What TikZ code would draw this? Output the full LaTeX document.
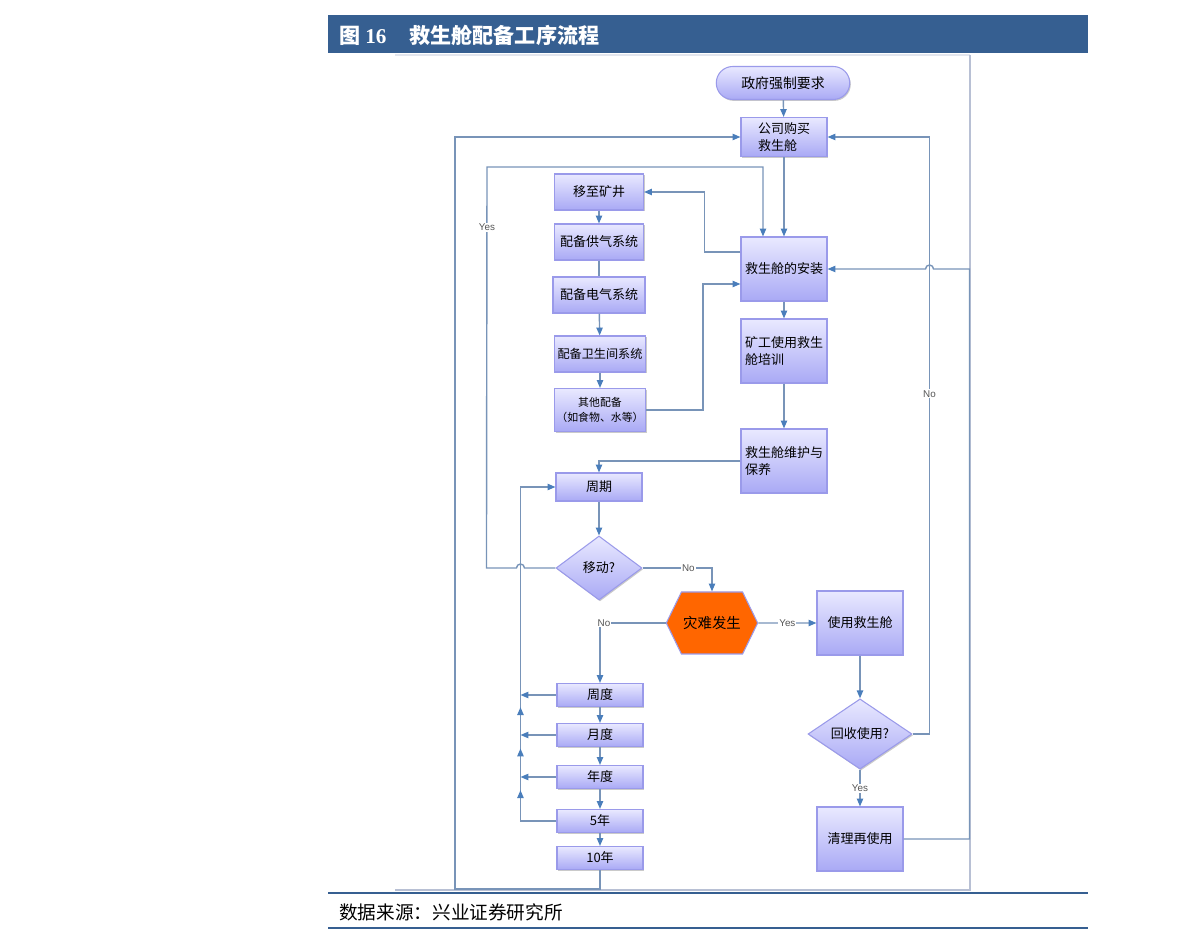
\documentclass[tikz,border=0pt]{standalone}
\usepackage{fontspec}
\setmainfont{Liberation Sans}
\newfontfamily\cjk{Noto Sans CJK SC}
\newfontfamily\numserif{Liberation Serif}
\usetikzlibrary{shapes.geometric,shapes.misc,shapes.symbols,shadows,arrows.meta,decorations.markings}

\providecommand{\PX}{0.02cm}
\providecommand{\FSbox}{\cjk\fontsize{7.4}{9.6}\selectfont}
\providecommand{\FSsmall}{\cjk\fontsize{6.9}{9}\selectfont}
\providecommand{\FStiny}{\cjk\fontsize{6.2}{8.4}\selectfont}
\providecommand{\FSstart}{\cjk\fontsize{7.9}{9.6}\selectfont}
\providecommand{\FSalarm}{\cjk\fontsize{8.2}{9.6}\selectfont}
\providecommand{\FSlbl}{\fontsize{5.6}{6.5}\selectfont}
\providecommand{\FShead}{\cjk\bfseries\fontsize{12}{14}\selectfont}
\providecommand{\FSfoot}{\cjk\fontsize{10.6}{12}\selectfont}

\definecolor{boxtop}{HTML}{E9E9FF}
\definecolor{boxbot}{HTML}{A9A9F5}
\definecolor{boxline}{HTML}{9A9AEA}
\definecolor{linecol}{HTML}{7894B8}
\definecolor{tipcol}{HTML}{4A7EBB}
\definecolor{alarm}{HTML}{FF6600}
\definecolor{hdrblue}{HTML}{365F91}
\definecolor{framecol}{HTML}{B8C0D4}
\definecolor{lblgray}{HTML}{555555}

\tikzset{
  boxbase/.style={draw=boxline, line width=0.6pt, top color=boxtop,
                  bottom color=boxbot, text=black, align=center, inner sep=1pt,
                  drop shadow={shadow xshift=0.6pt, shadow yshift=-0.8pt,
                               opacity=0.35, fill=black!60},
                  font=\FSbox},
  pillbox/.style={boxbase, rounded rectangle, font=\FSstart,
                  minimum width={137*\PX}, minimum height={33*\PX}},
  tallbox/.style={boxbase, rectangle,
                  minimum width={86*\PX}, minimum height={64*\PX}},
  midbox/.style={boxbase, rectangle,
                 minimum width={89*\PX}, minimum height={36*\PX}},
  lowbox/.style={boxbase, rectangle,
                 minimum width={86*\PX}, minimum height={23*\PX}},
  askbox/.style={boxbase, diamond, inner sep=0pt},
  alarmbox/.style={signal, signal to=west and east, signal pointer angle=128,
                   fill=alarm, draw=boxline, line width=0.6pt, font=\FSalarm,
                   minimum width={84*\PX}, minimum height={62*\PX}, inner sep=1pt},
  plain/.style={draw=linecol, line width=0.8pt},
  flow/.style={plain, -{Triangle[length=4.5pt, width=3.6pt, color=tipcol]}},
  choice/.style={font=\FSlbl, text=lblgray, fill=white, inner sep=0.6pt},
  frameline/.style={draw=framecol, line width=0.8pt}
}

\begin{document}
\begin{tikzpicture}[x=\PX, y=-\PX]
\useasboundingbox (0,0) rectangle (1191,942);

% header and footer
\fill[hdrblue] (328,15) rectangle (1088,53);
\node[anchor=west, text=white, font=\FShead, inner sep=0pt] (title) at (339,35)
    {图 {\numserif 16}\hspace{1.1em}救生舱配备工序流程};
\draw[frameline, draw=framecol!40] (395,55) -- (970,55);
\draw[frameline] (970,55) -- (970,890) -- (395,890);
\draw[hdrblue, line width=1.6pt] (328,893) -- (1088,893);
\node[anchor=west, font=\FSfoot, inner sep=0pt] (source) at (339,912)
    {数据来源：兴业证券研究所};
\draw[hdrblue, line width=1.6pt] (328,928) -- (1088,928);

% right column
\node (start) [pillbox] at (783,83) {政府强制要求};
\node (buy) [tallbox, minimum height={39*\PX}, align=left] at (784,137)
    {公司购买\\救生舱};
\node (install) [tallbox] at (784,269) {救生舱的安装};
\node (train) [tallbox, align=left] at (784,351) {矿工使用救生\\舱培训};
\node (maint) [tallbox, align=left] at (784,461) {救生舱维护与\\保养};

% left column
\node (move) [midbox] at (599,192) {移至矿井};
\node (gas) [midbox] at (599,242) {配备供气系统};
\node (elec) [midbox, minimum width={92*\PX}] at (599,295) {配备电气系统};
\node (wc) [midbox, minimum width={91*\PX}, font=\FSsmall] at (600,354) {配备卫生间系统};
\node (other) [midbox, minimum width={91*\PX}, minimum height={43*\PX}, font=\FStiny]
    at (600,410) {其他配备\\（如食物、水等）};
\node (cycle) [lowbox, minimum height={28*\PX}] at (599,487) {周期};
\node (moveq) [askbox, minimum width={86*\PX}, minimum height={64*\PX}] at (599,568)
    {移动?};

% disaster branch
\node (disaster) [alarmbox] at (712,623) {灾难发生};
\node (use) [tallbox] at (860,623) {使用救生舱};
\node (recycle) [askbox, minimum width={104*\PX}, minimum height={63*\PX}] at (860,734)
    {回收使用?};
\node (clean) [tallbox] at (860,839) {清理再使用};

% periods
\foreach \nm/\yy/\txt in {week/695/周度, month/735/月度, year/777/年度,
                          five/821/5年, ten/858/10年}{
  \node (\nm) [lowbox] at (600,\yy) {\txt};
}

% purchase -> installation
\draw[flow] (start) -- (buy);
\draw[flow] (buy) -- (install);
\draw[flow] (install.west) ++(0,-17) -- ++(-36,0) |- (move.east);

% fitting chain
\draw[flow] (move) -- (gas);
\draw[plain] (gas) -- (elec);
\draw[flow] (elec) -- (wc);
\draw[flow] (wc) -- (other);
\draw[flow] (other.east) -- ++(57,0) |- ([yshift={-15*0.02cm}]install.west);

% installation -> maintenance
\draw[flow] (install) -- (train);
\draw[flow] (train) -- (maint);
\draw[flow] (maint.west) -| (cycle.north);
\draw[flow] (cycle) -- (moveq);

% move? yes -> back to installation
\coordinate (yesTop) at (487,167);
\draw[flow] (moveq.west) -- ++(-31,0)
    arc[start angle=0, end angle=180, radius={4*\PX}] -- ++(-30,0)
    -- node[choice, pos=0.85] {Yes} (yesTop) -| ([xshift={-21*0.02cm}]install.north);

% move? no -> disaster
\draw[flow] (moveq.east) -| node[choice, pos=0.33] {No} (disaster.north);
\draw[flow] (disaster) -- node[choice] {Yes} (use);
\draw[flow] (disaster.west) -| node[choice, pos=0.47] {No} (week.north);

% period chain
\draw[flow] (week) -- (month);
\draw[flow] (month) -- (year);
\draw[flow] (year) -- (five);
\draw[flow] (five) -- (ten);
\foreach \nm in {week, month, year}{
  \draw[flow] (\nm.west) -- ++(-36,0);
}
\draw[flow, postaction={decorate}, decoration={markings,
      mark=at position 0.165 with {\arrow{Triangle[length=4.5pt, width=3.6pt, color=tipcol]}},
      mark=at position 0.268 with {\arrow{Triangle[length=4.5pt, width=3.6pt, color=tipcol]}},
      mark=at position 0.37 with {\arrow{Triangle[length=4.5pt, width=3.6pt, color=tipcol]}}}]
    (five.west) -- ++(-36,0) |- (cycle.west);

% ten years -> new purchase
\coordinate (outerTop) at (455,137);
\draw[flow] (ten.south) -- ++(0,19) -| (outerTop) -- (buy.west);

% use -> recycle
\draw[flow] (use) -- (recycle);
\draw[flow] (recycle.east) -- ++(17,0) |- node[choice, pos=0.285] {No} (buy.east);
\draw[flow] (recycle) -- node[choice] {Yes} (clean);
\draw[flow] (clean.east) -- ++(66,0) |- ([xshift={106*0.02cm}]install.east)
    arc[start angle=0, end angle=180, radius={4*\PX}] -- (install.east);

\end{tikzpicture}
\end{document}
